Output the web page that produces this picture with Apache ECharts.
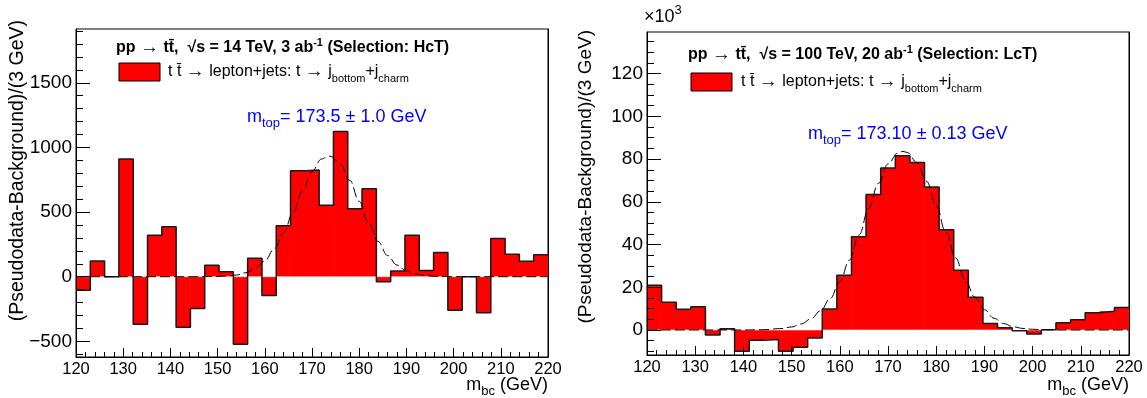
<!DOCTYPE html>
<html><head><meta charset="utf-8">
<script src="https://cdn.jsdelivr.net/npm/echarts@6/dist/echarts.min.js"></script>
<style>html,body{margin:0;padding:0;background:#fff}#c{width:1147px;height:398px}</style>
</head><body><div id="c"></div>
<script>
// ---------------- data ----------------
const xRange = [120, 220];
const binCount = 33;

// left panel: 14 TeV, 3 ab^-1 (HcT)
const leftValues = [-105, 122, 0, 910, -368, 321, 386, -391, -246, 88, 39, -523, 142, -145, 394, 820, 825, 552, 1124, 526, 681, -39, 44, 320, 49, 188, -260, 0, -278, 296, 173, 119, 170];
const leftFitX = [120,146,148,150,152,154,156,158,160,162,164,166,168,170,172,173.5,174,176,178,180,182,184,186,188,190,192,194,196,198,200,220];
const leftFitY = [0,0,1,2,5,13,31,64,122,214,341,499,666,814,910,933,930,870,745,583,417,273,164,90,45,21,9,3,1,0,0];
const leftYTicks = [-500, 0, 500, 1000, 1500];
const leftYRange = [-621, 1916];

// right panel: 100 TeV, 20 ab^-1 (LcT), values in units of 10^3
const rightValues = [20.9, 13.0, 9.7, 10.9, -2.3, 0.6, -10.0, -4.8, -4.5, -10.0, -8.1, -3.7, 9.8, 25.6, 43.6, 63.4, 75.8, 81.6, 78.4, 67.0, 46.9, 28.0, 15.3, 3.0, 1.1, -0.3, -1.9, 0.1, 3.4, 4.8, 8.1, 8.8, 10.5];
const rightFitX = [120,140,144,148,150,152,154,156,158,160,162,164,166,168,170,172,173.1,174,176,178,180,182,184,186,188,190,192,194,196,198,200,202,204,206,220];
const rightFitY = [0,0.02,0.13,0.69,1.43,2.81,5.18,9.0,14.7,22.6,32.7,44.5,56.9,68.6,77.7,82.8,83.6,83.1,78.4,69.6,58.2,45.7,33.8,23.5,15.4,9.5,5.5,3.0,1.5,0.74,0.34,0.15,0.06,0,0];
const rightYTicks = [0, 20, 40, 60, 80, 100, 120];
const rightYRange = [-11.7, 139.5];

// ---------------- helpers ----------------
const FONT = '"Liberation Sans", Arial, Helvetica, sans-serif';
function histData(values) {
  const w = (xRange[1] - xRange[0]) / binCount;
  return values.map((v, i) => [xRange[0] + i * w, xRange[0] + (i + 1) * w, v]);
}
function outline(values) {
  const pts = [];
  histData(values).forEach(d => { pts.push([d[0], d[2]]); pts.push([d[1], d[2]]); });
  return pts;
}
function steps(a, b, s) { const r = []; for (let v = a; v <= b + 1e-9; v += s) r.push(+v.toFixed(6)); return r; }
const minus = v => String(v).replace('-', '\u2212');

function xAxes(g) {
  return [
    { type: 'value', gridIndex: g, min: xRange[0], max: xRange[1], interval: 10, position: 'bottom', z: 10,
      axisLine: { show: true, onZero: false, lineStyle: { color: '#000', width: 1 } },
      axisTick: { show: true, inside: true, length: 9, lineStyle: { color: '#000', width: 1 } },
      axisLabel: { show: true, margin: 4, color: '#000', fontSize: 16.5, fontFamily: FONT },
      splitLine: { show: false } },
    { type: 'value', gridIndex: g, min: xRange[0], max: xRange[1], interval: 2, position: 'bottom', z: 10,
      axisLine: { show: false, onZero: false },
      axisTick: { show: true, inside: true, length: 5, lineStyle: { color: '#000', width: 1 } },
      axisLabel: { show: false }, splitLine: { show: false } }
  ];
}
function yAxes(g, range, ticks, minorTicks) {
  return [
    { type: 'value', gridIndex: g, min: range[0], max: range[1], position: 'left', z: 10,
      axisLine: { show: true, onZero: false, lineStyle: { color: '#000', width: 1 } },
      axisTick: { show: true, inside: true, length: 14, customValues: ticks, lineStyle: { color: '#000', width: 1 } },
      axisLabel: { show: true, customValues: ticks, margin: 4, color: '#000', fontSize: 19, fontFamily: FONT, formatter: minus },
      splitLine: { show: false } },
    { type: 'value', gridIndex: g, min: range[0], max: range[1], position: 'left', z: 10,
      axisLine: { show: false, onZero: false },
      axisTick: { show: true, inside: true, length: 7, customValues: minorTicks, lineStyle: { color: '#000', width: 1 } },
      axisLabel: { show: false }, splitLine: { show: false } },
    { type: 'value', gridIndex: g, min: range[0], max: range[1], position: 'right', z: 10,
      axisLine: { show: true, onZero: false, lineStyle: { color: '#000', width: 1 } },
      axisTick: { show: false }, axisLabel: { show: false }, splitLine: { show: false } }
  ];
}
function panelSeries(xi, yi, values, fitX, fitY) {
  return [
    { type: 'custom', xAxisIndex: xi, yAxisIndex: yi, z: 2, encode: { x: [0, 1], y: 2 },
      data: histData(values),
      renderItem: (params, api) => {
        const p0 = api.coord([api.value(0), 0]);
        const p1 = api.coord([api.value(1), api.value(2)]);
        return { type: 'rect',
          shape: { x: Math.min(p0[0], p1[0]) - 0.3, y: Math.min(p0[1], p1[1]), width: Math.abs(p1[0] - p0[0]) + 0.6, height: Math.abs(p1[1] - p0[1]) },
          style: { fill: '#ff0000' } };
      } },
    { type: 'line', xAxisIndex: xi, yAxisIndex: yi, z: 3, showSymbol: false, silent: true,
      data: [[xRange[0], 0], [xRange[1], 0]],
      lineStyle: { color: 'rgba(255,255,255,0.55)', width: 1 } },
    { type: 'line', xAxisIndex: xi, yAxisIndex: yi, z: 4, showSymbol: false, silent: true,
      data: outline(values),
      lineStyle: { color: '#1a1a1a', width: 1.5 } },
    { type: 'line', xAxisIndex: xi, yAxisIndex: yi, z: 5, showSymbol: false, silent: true,
      smooth: 0.4, smoothMonotone: 'x',
      data: fitX.map((x, i) => [x, fitY[i]]),
      lineStyle: { color: '#000', width: 1, type: [10, 4] } }
  ];
}

function richText(x, y, text, rich, align) {
  return { type: 'text', x: x, y: y, z: 20,
    style: { text: text, rich: rich, textAlign: align || 'left', textVerticalAlign: 'middle' } };
}
const titleRich = {
  b: { fontFamily: FONT, fontSize: 16, fontWeight: 'bold', fill: '#000', color: '#000', lineHeight: 22, verticalAlign: 'middle' },
  a: { fontFamily: FONT, fontSize: 19, fill: '#000', color: '#000', lineHeight: 22, verticalAlign: 'middle' },
  sup: { fontFamily: FONT, fontSize: 11, fontWeight: 'bold', fill: '#000', color: '#000', lineHeight: 11, verticalAlign: 'top' }
};
const legRich = {
  n: { fontFamily: FONT, fontSize: 16, fill: '#000', color: '#000', lineHeight: 24, verticalAlign: 'middle' },
  a: { fontFamily: FONT, fontSize: 19, fill: '#000', color: '#000', lineHeight: 24, verticalAlign: 'middle' },
  sub: { fontFamily: FONT, fontSize: 11, fill: '#000', color: '#000', lineHeight: 11, verticalAlign: 'bottom' }
};
const blueRich = {
  n: { fontFamily: FONT, fontSize: 18, fill: '#0000ff', color: '#0000ff', lineHeight: 26, verticalAlign: 'middle' },
  sub: { fontFamily: FONT, fontSize: 13, fill: '#0000ff', color: '#0000ff', lineHeight: 13, verticalAlign: 'bottom' }
};
const axRich = {
  n: { fontFamily: FONT, fontSize: 18, fill: '#000', color: '#000', lineHeight: 26, verticalAlign: 'middle' },
  sub: { fontFamily: FONT, fontSize: 13, fill: '#000', color: '#000', lineHeight: 13, verticalAlign: 'bottom' },
  sup: { fontFamily: FONT, fontSize: 13, fill: '#000', color: '#000', lineHeight: 13, verticalAlign: 'top' }
};
const yTitle = '(Pseudodata-Background)/(3 GeV)';
const legendText = '{n|t t\u0304 }{a|\u2192}{n| lepton+jets: t }{a|\u2192}{n| j}{sub|bottom}{n|+j}{sub|charm}';

const graphic = [
  // left panel
  richText(116, 48, '{b|pp }{a|\u2192}{b| tt\u0304,  \u221As = 14 TeV, 3 ab}{sup|-1}{b| (Selection: HcT)}', titleRich),
  { type: 'rect', z: 20, shape: { x: 119, y: 63, width: 41, height: 18 }, style: { fill: '#ff0000', stroke: '#000', lineWidth: 1 } },
  richText(168, 72, legendText, legRich),
  richText(247, 117, '{n|m}{sub|top}{n|= 173.5 \u00B1 1.0 GeV}', blueRich),
  richText(548, 385, '{n|m}{sub|bc}{n| (GeV)}', axRich, 'right'),
  { type: 'text', z: 20, x: 18, y: 20, rotation: Math.PI / 2,
    style: { text: yTitle, fontFamily: FONT, fontSize: 19.5, fill: '#000', textAlign: 'right', textVerticalAlign: 'middle' } },
  // right panel
  richText(644, 17, '{n|\u00D710}{sup|3}', axRich),
  richText(688, 55, '{b|pp }{a|\u2192}{b| tt\u0304,  \u221As = 100 TeV, 20 ab}{sup|-1}{b| (Selection: LcT)}', titleRich),
  { type: 'rect', z: 20, shape: { x: 691, y: 73, width: 41, height: 18 }, style: { fill: '#ff0000', stroke: '#000', lineWidth: 1 } },
  richText(741, 82, legendText, legRich),
  richText(808, 134, '{n|m}{sub|top}{n|= 173.10 \u00B1 0.13 GeV}', blueRich),
  richText(1129, 385, '{n|m}{sub|bc}{n| (GeV)}', axRich, 'right'),
  { type: 'text', z: 20, x: 586, y: 30, rotation: Math.PI / 2,
    style: { text: yTitle, fontFamily: FONT, fontSize: 19, fill: '#000', textAlign: 'right', textVerticalAlign: 'middle' } }
];

const option = {
  animation: false,
  backgroundColor: '#fff',
  grid: [
    { left: 76, top: 29, width: 472, height: 328, show: true, borderColor: '#000', borderWidth: 1, backgroundColor: 'transparent' },
    { left: 647, top: 32, width: 482, height: 323, show: true, borderColor: '#000', borderWidth: 1, backgroundColor: 'transparent' }
  ],
  xAxis: [...xAxes(0), ...xAxes(1)],
  yAxis: [
    ...yAxes(0, leftYRange, leftYTicks, steps(-600, 1900, 100)),
    ...yAxes(1, rightYRange, rightYTicks, steps(-10, 135, 5))
  ],
  series: [
    ...panelSeries(0, 0, leftValues, leftFitX, leftFitY),
    ...panelSeries(2, 3, rightValues, rightFitX, rightFitY)
  ],
  graphic: graphic
};
const chart = echarts.init(document.getElementById('c'), null, { renderer: 'canvas' });
chart.setOption(option);
</script>
</body></html>
